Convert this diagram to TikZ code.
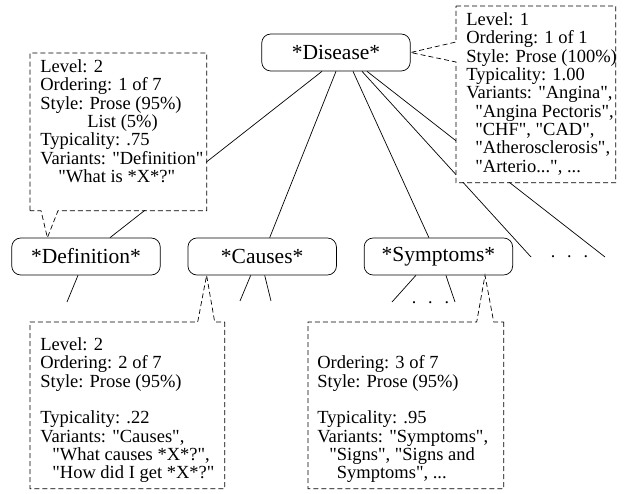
\documentclass[tikz,border=0pt]{standalone}
\usepackage{fontspec}
\setmainfont{Liberation Serif}
\newfontfamily\notefont{Liberation Serif}
\usetikzlibrary{positioning}
\begin{document}
\begin{tikzpicture}[x=1pt, y=-1pt, line width=0.7pt,
    topic/.style={rectangle, draw, rounded corners=9pt, minimum width=148.5pt, minimum height=37pt, inner sep=0pt, font=\fontsize{21.5}{24}\selectfont},
    info/.style={rectangle, fill=white, inner sep=0pt, anchor=north west},
    callout/.style={draw, dash pattern=on 5pt off 3pt},
    note/.style={anchor=north west, align=left, inner sep=0pt, font=\notefont\fontsize{18.5}{18.3}\selectfont},
    more/.style={anchor=base, inner sep=0pt, font=\fontsize{18}{18}\selectfont},
    line/.style={draw}]
    \useasboundingbox (0,0) rectangle (624,494);

    \node [topic] (disease) at (336,52.5) {*Disease*};
    \node [topic] (definition) at (86,256.5) {*Definition*};
    \node [topic, right=27pt of definition] (causes) {*Causes*};
    \node [topic, right=27pt of causes] (symptoms) {*Symptoms*};

    \coordinate (moreA) at (531,257);
    \coordinate (moreB) at (605,257);
    \coordinate (defSub) at (67,302);
    \coordinate (cauSubA) at (240,301);
    \coordinate (cauSubB) at (271,301);
    \coordinate (symSubA) at (392,302);
    \coordinate (symSubB) at (455,302);

    \path [line] ([xshift=-14pt]disease.south) -- ([xshift=24pt]definition.north);
    \path [line] (disease.south) -- ([xshift=7.5pt]causes.north);
    \path [line] ([xshift=17pt]disease.south) -- ([xshift=-9.5pt]symptoms.north);
    \path [line] ([xshift=26pt]disease.south) -- (moreA);
    \path [line] ([xshift=31pt]disease.south) -- (moreB);
    \path [line] ([xshift=-8pt]definition.south) -- (defSub);
    \path [line] ([xshift=-11.5pt]causes.south) -- (cauSubA);
    \path [line] ([xshift=2.5pt]causes.south) -- (cauSubB);
    \path [line] ([xshift=-22.5pt]symptoms.south) -- (symSubA);
    \path [line] ([xshift=7.5pt]symptoms.south) -- (symSubB);

    \node [more] (moreDots) at (569.5,257.2) {.\hspace{12pt}.\hspace{12pt}.};
    \node [more] (symDots) at (430.5,303.2) {.\hspace{12pt}.\hspace{12pt}.};

    % dashed annotation boxes
    \node [info, minimum width=159pt, minimum height=176pt] (diseaseInfo) at (456,6) {};
    \node [info, minimum width=176pt, minimum height=157pt] (defInfo) at (30,53) {};
    \node [info, minimum width=194pt, minimum height=166pt] (cauInfo) at (30,322) {};
    \node [info, minimum width=195pt, minimum height=166pt] (symInfo) at (308,322) {};

    \path [callout] (diseaseInfo.north west) -- (diseaseInfo.north east) -- (diseaseInfo.south east)
        -- (diseaseInfo.south west) -- ([yshift=-56pt]diseaseInfo.north west) -- (disease.east)
        -- ([yshift=-36pt]diseaseInfo.north west) -- cycle;
    \path [callout] (defInfo.south west) -- (defInfo.north west) -- (defInfo.north east) -- (defInfo.south east)
        -- ([xshift=28pt]defInfo.south west) -- ([xshift=36pt]definition.north west)
        -- ([xshift=11pt]defInfo.south west) -- cycle;
    \path [callout] (cauInfo.north east) -- (cauInfo.south east) -- (cauInfo.south west) -- (cauInfo.north west)
        -- ([xshift=-27pt]cauInfo.north east) -- ([xshift=19pt]causes.south west)
        -- ([xshift=-10pt]cauInfo.north east) -- cycle;
    \path [callout] (symInfo.north east) -- (symInfo.south east) -- (symInfo.south west) -- (symInfo.north west)
        -- ([xshift=-27pt]symInfo.north east) -- ([xshift=-28pt]symptoms.south east)
        -- ([xshift=-10pt]symInfo.north east) -- cycle;

    \node [note] (diseaseText) at ([shift={(10pt,-6.5pt)}]diseaseInfo.north west) {Level: 1\\Ordering: 1 of 1\\Style: Prose (100\%)\\Typicality: 1.00\\Variants: "Angina",\\\hspace*{9pt}"Angina Pectoris",\\\hspace*{9pt}"CHF", "CAD",\\\hspace*{9pt}"Atherosclerosis",\\\hspace*{9pt}"Arterio...", ...};
    \node [note] (defText) at ([shift={(10pt,-6.5pt)}]defInfo.north west) {Level: 2\\Ordering: 1 of 7\\Style: Prose (95\%)\\\hspace*{47pt}List (5\%)\\Typicality: .75\\Variants: "Definition"\\\hspace*{18pt}"What is *X*?"};
    \node [note] (cauText) at ([shift={(10pt,-15.5pt)}]cauInfo.north west) {Level: 2\\Ordering: 2 of 7\\Style: Prose (95\%)\\[18.3pt]Typicality: .22\\Variants: "Causes",\\\hspace*{12pt}"What causes *X*?",\\\hspace*{12pt}"How did I get *X*?"};
    \node [note] (symText) at ([shift={(9pt,-33.5pt)}]symInfo.north west) {Ordering: 3 of 7\\Style: Prose (95\%)\\[18.3pt]Typicality: .95\\Variants: "Symptoms",\\\hspace*{12pt}"Signs", "Signs and\\\hspace*{19.5pt}Symptoms", ...};
\end{tikzpicture}
\end{document}
